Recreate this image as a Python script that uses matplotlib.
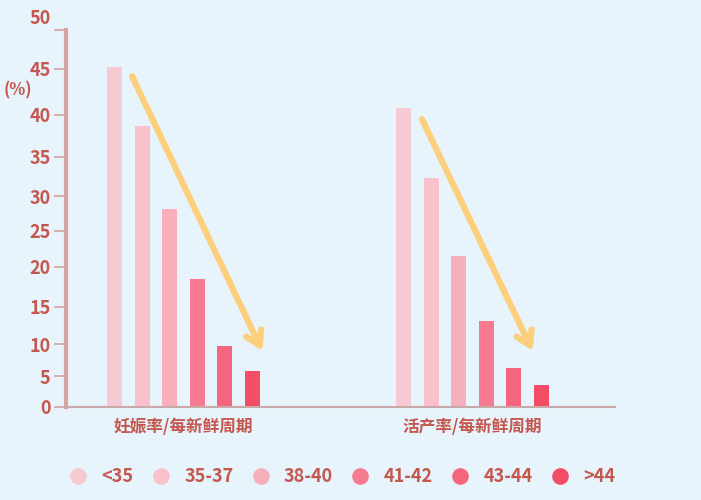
import numpy as np
import matplotlib.pyplot as plt
from matplotlib.lines import Line2D
from matplotlib.transforms import ScaledTranslation

plt.rcParams['font.family'] = ['Noto Sans CJK SC', 'DejaVu Sans']
plt.rcParams['font.weight'] = 'bold'

# ── Data ──────────────────────────────────────────────
groups = ["妊娠率/每新鲜周期", "活产率/每新鲜周期"]
age_bands = ["<35", "35-37", "38-40", "41-42", "43-44", ">44"]
pregnancy_rate = [45.3, 38.7, 28.1, 18.5, 9.7, 5.8]
live_birth_rate = [40.8, 32.3, 21.5, 13.1, 6.2, 3.5]
y_ticks = [0, 5, 10, 15, 20, 25, 30, 35, 40, 45, 50]

# ── Style ─────────────────────────────────────────────
BG = '#e8f4fb'
TEXT = '#c4574e'
AXIS = '#d6a3a3'
ARROW = '#fbcf7c'
band_colors = ['#f6cad2', '#f8c1cb', '#f8afbc', '#f67a90', '#f6677f', '#f34d68']

# hand-drawn axis: tick spacing shrinks toward the bottom
tick_frac = np.array([0, 31, 63, 100, 140, 176, 211, 250, 292, 338, 377]) / 377.0

def fwd(v):
    return np.interp(v, y_ticks, tick_frac)

def inv(f):
    return np.interp(f, tick_frac, y_ticks)

fig = plt.figure(figsize=(7.01, 5.0), dpi=100, facecolor=BG)
ax = fig.add_axes([66 / 701, 93 / 500, 549 / 701, 377 / 500])
ax.set_facecolor(BG)
ax.set_yscale('function', functions=(fwd, inv))
ax.set_ylim(0, 50)
ax.set_xlim(-0.407, 1.493)

offsets = (np.arange(len(age_bands)) - 2.5) * 0.095
for gi, series in enumerate([pregnancy_rate, live_birth_rate]):
    for i, val in enumerate(series):
        ax.bar(gi + offsets[i], val, width=0.052, color=band_colors[i],
               edgecolor='none', zorder=2)

# downward trend arrows
for (x0, y0), (x1, y1) in [((-0.178, 44.2), (0.272, 8.9)),
                           ((0.825, 39.5), (1.208, 8.9))]:
    ax.annotate('', xy=(x1, y1), xytext=(x0, y0),
                arrowprops=dict(arrowstyle='->,head_length=1.0,head_width=0.6',
                                color=ARROW, lw=4.5, capstyle='round',
                                joinstyle='round', shrinkA=0, shrinkB=0),
                zorder=3)

# axes
for side in ['top', 'right']:
    ax.spines[side].set_visible(False)
ax.spines['left'].set_color(AXIS)
ax.spines['left'].set_linewidth(3)
ax.spines['bottom'].set_color('#c9a9a9')
ax.spines['bottom'].set_linewidth(1.5)

ax.set_yticks(y_ticks)
ax.set_yticklabels([str(t) for t in y_ticks])
ax.tick_params(axis='y', colors=AXIS, length=9, width=1.2, pad=2,
               labelcolor=TEXT, labelsize=13)
for lbl in ax.get_yticklabels():
    lbl.set_fontweight('bold')
top_lbl = ax.get_yticklabels()[-1]
top_lbl.set_transform(top_lbl.get_transform() +
                      ScaledTranslation(0, 13 / 100, fig.dpi_scale_trans))

ax.set_xticks([0, 1])
ax.set_xticklabels(groups)
ax.tick_params(axis='x', length=0, pad=8, labelcolor=TEXT, labelsize=12)
for lbl in ax.get_xticklabels():
    lbl.set_fontweight('bold')

fig.text(18 / 701, 1 - 90 / 500, '(%)', color=TEXT, fontsize=12,
         fontweight='bold', ha='center', va='center')

handles = [Line2D([], [], marker='o', linestyle='none', markersize=12,
                  markerfacecolor=c, markeredgecolor='none') for c in band_colors]
leg = fig.legend(handles, age_bands, loc='center', bbox_to_anchor=(0.488, 0.047),
                 ncol=6, frameon=False, handlelength=1.0, handletextpad=0.8,
                 columnspacing=1.0, prop={'weight': 'bold', 'size': 13})
for t in leg.get_texts():
    t.set_color(TEXT)

fig.savefig('out.png', dpi=100, facecolor=BG)
